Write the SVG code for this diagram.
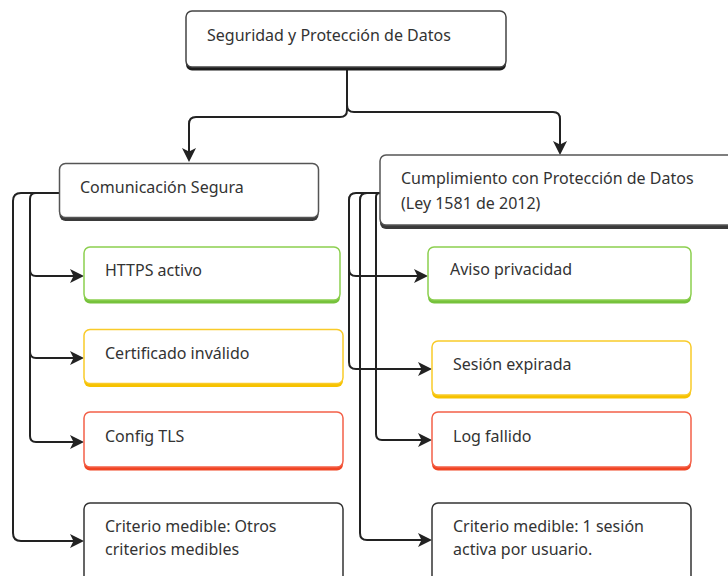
<svg xmlns="http://www.w3.org/2000/svg" width="728" height="576" viewBox="0 0 728 576">
<style>
text{font-family:"Noto Sans","Open Sans",sans-serif;font-size:16px;fill:#333}
.bx{fill:#fff;stroke-width:1.5}
.c{fill:none;stroke:#222;stroke-width:2}
</style>
<defs>
<marker id="ah" markerUnits="userSpaceOnUse" viewBox="0 0 14 14" markerWidth="14" markerHeight="14" refX="12" refY="7" orient="auto">
<path d="M0,0 L14,7 L0,14 L3.5,7 z" fill="#222"/>
</marker>
</defs>
<rect width="728" height="576" fill="#fff"/>
<g id="connectors">
<path class="c" d="M347,70 V110 Q347,117 340,117 H196 Q189,117 189,124 V160" marker-end="url(#ah)"/>
<path class="c" d="M347,70 V105 Q347,112 354,112 H553 Q560,112 560,119 V153" marker-end="url(#ah)"/>
<path class="c" d="M59,193 H21 Q13,193 13,201 V533 Q13,541 21,541 H82" marker-end="url(#ah)"/>
<path class="c" d="M59,193 H36 Q30,193 30,199 V270 Q30,276 36,276 H82" marker-end="url(#ah)"/>
<path class="c" d="M30,270 V352 Q30,358 36,358 H82" marker-end="url(#ah)"/>
<path class="c" d="M30,352 V436 Q30,442 36,442 H82" marker-end="url(#ah)"/>
<path class="c" d="M380,193 H356 Q349,193 349,200 V269 Q349,276 356,276 H426" marker-end="url(#ah)"/>
<path class="c" d="M349,269 V362 Q349,369 356,369 H430" marker-end="url(#ah)"/>
<path class="c" d="M380,193 H367 Q360,193 360,200 V533 Q360,540 367,540 H430" marker-end="url(#ah)"/>
<path class="c" d="M380,193 Q376,193 376,197 V434 Q376,440 382,440 H430" marker-end="url(#ah)"/>
</g>
<g id="root">
<rect x="186" y="14.5" width="320" height="56" rx="6" fill="#1c1c1c"/>
<rect class="bx" x="186" y="11" width="320" height="56" rx="6" stroke="#444"/>
<text x="207" y="41">Seguridad y Protección de Datos</text>
</g>
<g id="comunicacion">
<rect x="59.5" y="167" width="259" height="54" rx="6" fill="#3a3a3a"/>
<rect class="bx" x="59.5" y="163.5" width="259" height="54" rx="6" stroke="#555"/>
<text x="80" y="193">Comunicación Segura</text>
</g>
<g id="cumplimiento">
<rect x="380" y="159" width="360" height="70" rx="6" fill="#3a3a3a"/>
<rect class="bx" x="380" y="155" width="360" height="70" rx="6" stroke="#555"/>
<text x="401" y="184">Cumplimiento con Protección de Datos</text>
<text x="401" y="209">(Ley 1581 de 2012)</text>
</g>
<g id="https">
<rect x="84" y="250.5" width="256" height="53" rx="6" fill="#76c23c"/>
<rect class="bx" x="84" y="247" width="256" height="53" rx="6" stroke="#8ccf4f"/>
<text x="105" y="276">HTTPS activo</text>
</g>
<g id="certificado">
<rect x="84" y="333" width="259" height="54" rx="6" fill="#f6c200"/>
<rect class="bx" x="84" y="329.5" width="259" height="54" rx="6" stroke="#f9cb2a"/>
<text x="105" y="359">Certificado inválido</text>
</g>
<g id="config">
<rect x="84" y="415.5" width="259" height="55" rx="6" fill="#f04423"/>
<rect class="bx" x="84" y="412" width="259" height="55" rx="6" stroke="#f36048"/>
<text x="105" y="442">Config TLS</text>
</g>
<g id="criterio1">
<rect x="84" y="506.5" width="259" height="80" rx="6" fill="#1c1c1c"/>
<rect class="bx" x="84" y="503" width="259" height="80" rx="6" stroke="#333"/>
<text x="105" y="532">Criterio medible: Otros</text>
<text x="105" y="555">criterios medibles</text>
</g>
<g id="aviso">
<rect x="428" y="250.5" width="263" height="53" rx="6" fill="#76c23c"/>
<rect class="bx" x="428" y="247" width="263" height="53" rx="6" stroke="#8ccf4f"/>
<text x="450" y="275">Aviso privacidad</text>
</g>
<g id="sesion">
<rect x="432" y="344.5" width="259" height="54" rx="6" fill="#f6c200"/>
<rect class="bx" x="432" y="341" width="259" height="54" rx="6" stroke="#f9cb2a"/>
<text x="453" y="370">Sesión expirada</text>
</g>
<g id="log">
<rect x="432" y="415.5" width="259" height="55" rx="6" fill="#f04423"/>
<rect class="bx" x="432" y="412" width="259" height="55" rx="6" stroke="#f36048"/>
<text x="453" y="442">Log fallido</text>
</g>
<g id="criterio2">
<rect x="432" y="506.5" width="259" height="80" rx="6" fill="#1c1c1c"/>
<rect class="bx" x="432" y="503" width="259" height="80" rx="6" stroke="#333"/>
<text x="453" y="532">Criterio medible: 1 sesión</text>
<text x="453" y="555">activa por usuario.</text>
</g>
</svg>
